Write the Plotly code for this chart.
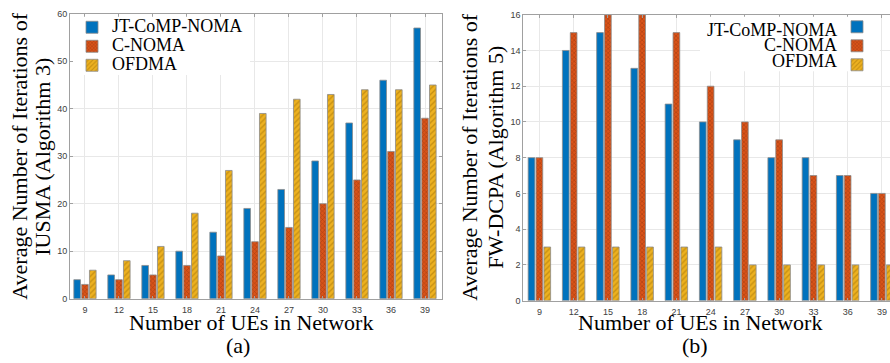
import plotly.graph_objects as go

# ---- data ----
ues = ["9", "12", "15", "18", "21", "24", "27", "30", "33", "36", "39"]
series_names = ["JT-CoMP-NOMA", "C-NOMA", "OFDMA"]

iusma_jt = [4, 5, 7, 10, 14, 19, 23, 29, 37, 46, 57]
iusma_cnoma = [3, 4, 5, 7, 9, 12, 15, 20, 25, 31, 38]
iusma_ofdma = [6, 8, 11, 18, 27, 39, 42, 43, 44, 44, 45]

fwdcpa_jt = [8, 14, 15, 13, 11, 10, 9, 8, 8, 7, 6]
fwdcpa_cnoma = [8, 15, 16, 16, 15, 12, 10, 9, 7, 7, 6]
fwdcpa_ofdma = [3, 3, 3, 3, 3, 3, 2, 2, 2, 2, 2]

left_yticks = [0, 10, 20, 30, 40, 50, 60]
right_yticks = [0, 2, 4, 6, 8, 10, 12, 14, 16]

# ---- styles ----
# the right panel runs slightly past the 890 px window, as in the original
W, H = 900, 363
colors = ["#0072BD", "#D95319", "#EDB120"]
patterns = [
    dict(shape=""),
    dict(shape="x", fgcolor="#7a2a0c", size=3, solidity=0.35),
    dict(shape="/", fgcolor="#a07006", size=4, solidity=0.35),
]
edge = dict(color="#8c8c8c", width=0.8)
serif = "Liberation Serif, Times New Roman, serif"
sans = "Liberation Sans, Arial, sans-serif"

def px(x):
    return x / W

def py(y):
    return 1 - y / H

fig = go.Figure()

left_vals = [iusma_jt, iusma_cnoma, iusma_ofdma]
right_vals = [fwdcpa_jt, fwdcpa_cnoma, fwdcpa_ofdma]

for i, name in enumerate(series_names):
    fig.add_trace(go.Bar(
        x=ues, y=left_vals[i],
        name='<span style="font-size:18px">' + name + '</span>',
        xaxis="x", yaxis="y",
        marker=dict(color=colors[i], line=edge, pattern=patterns[i]),
        legend="legend", showlegend=True,
    ))
for i, name in enumerate(series_names):
    fig.add_trace(go.Bar(
        x=ues, y=right_vals[i], name="", xaxis="x2", yaxis="y2",
        marker=dict(color=colors[i], line=edge, pattern=patterns[i]),
        legend="legend2", showlegend=True, hovertext=name,
    ))

axis_common = dict(
    showline=True, linecolor="#a0a0a0", linewidth=1, mirror="ticks",
    showgrid=True, gridcolor="#e8e8e8", gridwidth=1,
    ticks="inside", ticklen=3, tickcolor="#a0a0a0",
    tickfont=dict(family=sans, size=9, color="#404040"),
    zeroline=False,
)

fig.update_layout(
    width=W, height=H,
    margin=dict(l=0, r=0, t=0, b=0),
    paper_bgcolor="white", plot_bgcolor="white",
    barmode="group", bargap=0.31, bargroupgap=0.15,
    xaxis=dict(domain=[px(70), px(442)], anchor="y", type="category",
               range=[-0.44, 10.5], ticklabelstandoff=3, **axis_common),
    yaxis=dict(domain=[py(302), py(9)], anchor="x", range=[0, 60], tickvals=left_yticks, **axis_common),
    xaxis2=dict(domain=[px(523.3), px(899)], anchor="y2", type="category",
                range=[-0.47, 10.5], ticklabelstandoff=3, **axis_common),
    yaxis2=dict(domain=[py(304), py(10)], anchor="x2", range=[0, 16], tickvals=right_yticks, **axis_common),
    legend=dict(
        x=px(72), y=py(8), xanchor="left", yanchor="top",
        bgcolor="rgba(255,255,255,0)", borderwidth=0,
        font=dict(family=serif, size=12, color="black"),
        tracegroupgap=0, itemwidth=30,
    ),
    legend2=dict(
        x=px(882), y=py(7.5), xanchor="right", yanchor="top",
        bgcolor="rgba(255,255,255,0)", borderwidth=0,
        font=dict(family=serif, size=10, color="black"),
        tracegroupgap=0, itemwidth=30,
    ),
    showlegend=True,
)

# white backgrounds behind the legends (hide grid lines like the original)
fig.add_shape(type="rect", xref="paper", yref="paper", layer="above",
              x0=px(73), x1=px(250), y0=py(72), y1=py(12),
              fillcolor="white", line=dict(width=0))
fig.add_shape(type="rect", xref="paper", yref="paper", layer="above",
              x0=px(700), x1=px(880), y0=py(68), y1=py(12),
              fillcolor="white", line=dict(width=0))

ann_font = dict(family=serif, size=22, color="black")
annotations = [
    dict(text="Average Number of Iterations of", x=px(20), y=py(156), textangle=-90),
    dict(text="IUSMA (Algorithm 3)", x=px(43), y=py(156), textangle=-90),
    dict(text="Average Number of Iterations of", x=px(470), y=py(157), textangle=-90),
    dict(text="FW-DCPA (Algorithm 5)", x=px(496), y=py(157), textangle=-90),
    dict(text="Number of UEs in Network", x=px(251), y=py(326)),
    dict(text="(a)", x=px(238), y=py(350)),
    dict(text="Number of UEs in Network", x=px(700), y=py(327)),
    dict(text="(b)", x=px(695), y=py(350)),
]
for a in annotations:
    fig.add_annotation(xref="paper", yref="paper", showarrow=False,
                       xanchor="center", yanchor="middle", font=ann_font, **a)

# right legend labels (text to the left of swatches)
leg_rows = [25.5, 41.5, 57.5]
for name, yy in zip(series_names, leg_rows):
    fig.add_annotation(text=name, xref="paper", yref="paper", x=px(839), y=py(yy),
                       xanchor="right", yanchor="middle", showarrow=False,
                       font=dict(family=serif, size=18, color="black"))

fig.write_html("out.html",
               config={"displayModeBar": False},
               post_script="document.body.style.margin='0';document.body.style.overflow='hidden';")
